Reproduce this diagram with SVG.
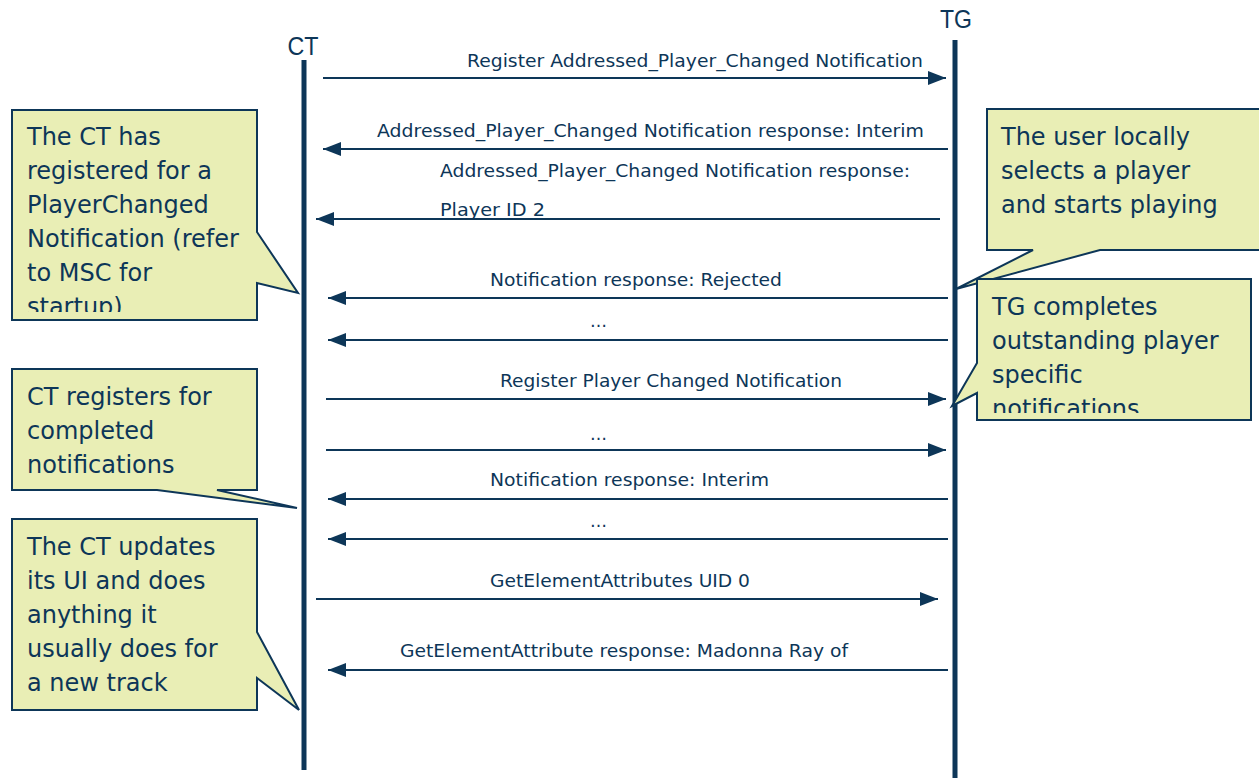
<svg xmlns="http://www.w3.org/2000/svg" width="1259" height="778" viewBox="0 0 1259 778">
<style>
.life{stroke:#0D3658;stroke-width:5;fill:none}
.msg{stroke:#0D3658;stroke-width:2;fill:none}
.lbl{font-family:"DejaVu Sans",Verdana,sans-serif;font-size:17px;fill:#0D3658}
.head{font-family:"Liberation Sans",Arial,sans-serif;font-size:25px;fill:#0D3658}
.call{fill:#E9EEB5;stroke:#0D3658;stroke-width:2;stroke-linejoin:miter}
.ctext{font-family:"DejaVu Sans",Verdana,sans-serif;font-size:24px;fill:#0D3658}
</style>
<defs>
<marker id="ah" markerUnits="userSpaceOnUse" markerWidth="20" markerHeight="16" refX="18" refY="8" orient="auto">
<path d="M0,1 L18,8 L0,15 Z" fill="#0D3658"/>
</marker>
<clipPath id="clipA"><rect x="12" y="110" width="245" height="202"/></clipPath>
<clipPath id="clipC"><rect x="977" y="279" width="274" height="134"/></clipPath>
</defs>
<rect width="1259" height="778" fill="#FFFFFF"/>

<g id="CT">
<text class="head" x="303" y="55" text-anchor="middle" textLength="31" lengthAdjust="spacingAndGlyphs">CT</text>
<line class="life" x1="304" y1="60" x2="304" y2="770"/>
</g>
<g id="TG">
<text class="head" x="956" y="28" text-anchor="middle" textLength="32" lengthAdjust="spacingAndGlyphs">TG</text>
<line class="life" x1="955" y1="40" x2="955" y2="778"/>
</g>

<g id="connectors">
<line class="msg" x1="323" y1="78" x2="946" y2="78" marker-end="url(#ah)"/>
<text class="lbl" x="467" y="67" textLength="456" lengthAdjust="spacingAndGlyphs">Register Addressed_Player_Changed Notification</text>

<line class="msg" x1="948" y1="149" x2="323" y2="149" marker-end="url(#ah)"/>
<text class="lbl" x="377" y="137" textLength="547" lengthAdjust="spacingAndGlyphs">Addressed_Player_Changed Notification response: Interim</text>

<line class="msg" x1="940" y1="219" x2="316" y2="219" marker-end="url(#ah)"/>
<text class="lbl" x="440" y="177" textLength="470" lengthAdjust="spacingAndGlyphs">Addressed_Player_Changed Notification response:</text>
<text class="lbl" x="440" y="216" textLength="105" lengthAdjust="spacingAndGlyphs">Player ID 2</text>

<line class="msg" x1="948" y1="298" x2="328" y2="298" marker-end="url(#ah)"/>
<text class="lbl" x="490" y="286" textLength="292" lengthAdjust="spacingAndGlyphs">Notification response: Rejected</text>

<line class="msg" x1="948" y1="340" x2="328" y2="340" marker-end="url(#ah)"/>
<text class="lbl" x="590" y="327">…</text>

<line class="msg" x1="326" y1="399" x2="946" y2="399" marker-end="url(#ah)"/>
<text class="lbl" x="500" y="387" textLength="342" lengthAdjust="spacingAndGlyphs">Register Player Changed Notification</text>

<line class="msg" x1="326" y1="450" x2="946" y2="450" marker-end="url(#ah)"/>
<text class="lbl" x="590" y="440">…</text>

<line class="msg" x1="948" y1="499" x2="328" y2="499" marker-end="url(#ah)"/>
<text class="lbl" x="490" y="486" textLength="279" lengthAdjust="spacingAndGlyphs">Notification response: Interim</text>

<line class="msg" x1="948" y1="539" x2="328" y2="539" marker-end="url(#ah)"/>
<text class="lbl" x="590" y="527">…</text>

<line class="msg" x1="316" y1="599" x2="938" y2="599" marker-end="url(#ah)"/>
<text class="lbl" x="490" y="587" textLength="260" lengthAdjust="spacingAndGlyphs">GetElementAttributes UID 0</text>

<line class="msg" x1="948" y1="670" x2="328" y2="670" marker-end="url(#ah)"/>
<text class="lbl" x="400" y="657" textLength="448" lengthAdjust="spacingAndGlyphs">GetElementAttribute response: Madonna Ray of</text>
</g>

<g id="noteA">
<path class="call" d="M12,110 H257 V232 L298,293 L257,283 V320 H12 Z"/>
<g clip-path="url(#clipA)">
<text class="ctext" x="27" y="145">The CT has</text>
<text class="ctext" x="27" y="179">registered for a</text>
<text class="ctext" x="27" y="213">PlayerChanged</text>
<text class="ctext" x="27" y="247">Notification (refer</text>
<text class="ctext" x="27" y="281">to MSC for</text>
<text class="ctext" x="27" y="315">startup)</text>
</g>
</g>

<g id="noteB">
<path class="call" d="M987,109 H1266 V250 H1100 L956,289 L1033,250 H987 Z"/>
<text class="ctext" x="1001" y="145">The user locally</text>
<text class="ctext" x="1001" y="179">selects a player</text>
<text class="ctext" x="1001" y="213">and starts playing</text>
</g>

<g id="noteC">
<path class="call" d="M977,279 H1251 V420 H977 V393 L952,406 L977,363 Z"/>
<g clip-path="url(#clipC)">
<text class="ctext" x="992" y="315">TG completes</text>
<text class="ctext" x="992" y="349">outstanding player</text>
<text class="ctext" x="992" y="383">specific</text>
<text class="ctext" x="992" y="417">notifications</text>
</g>
</g>

<g id="noteD">
<path class="call" d="M12,369 H257 V490 H217 L297,508 L157,490 H12 Z"/>
<text class="ctext" x="27" y="405">CT registers for</text>
<text class="ctext" x="27" y="439">completed</text>
<text class="ctext" x="27" y="473">notifications</text>
</g>

<g id="noteE">
<path class="call" d="M12,519 H257 V632 L299,710 L257,678 V710 H12 Z"/>
<text class="ctext" x="27" y="555">The CT updates</text>
<text class="ctext" x="27" y="589">its UI and does</text>
<text class="ctext" x="27" y="623">anything it</text>
<text class="ctext" x="27" y="657">usually does for</text>
<text class="ctext" x="27" y="691">a new track</text>
</g>
</svg>
